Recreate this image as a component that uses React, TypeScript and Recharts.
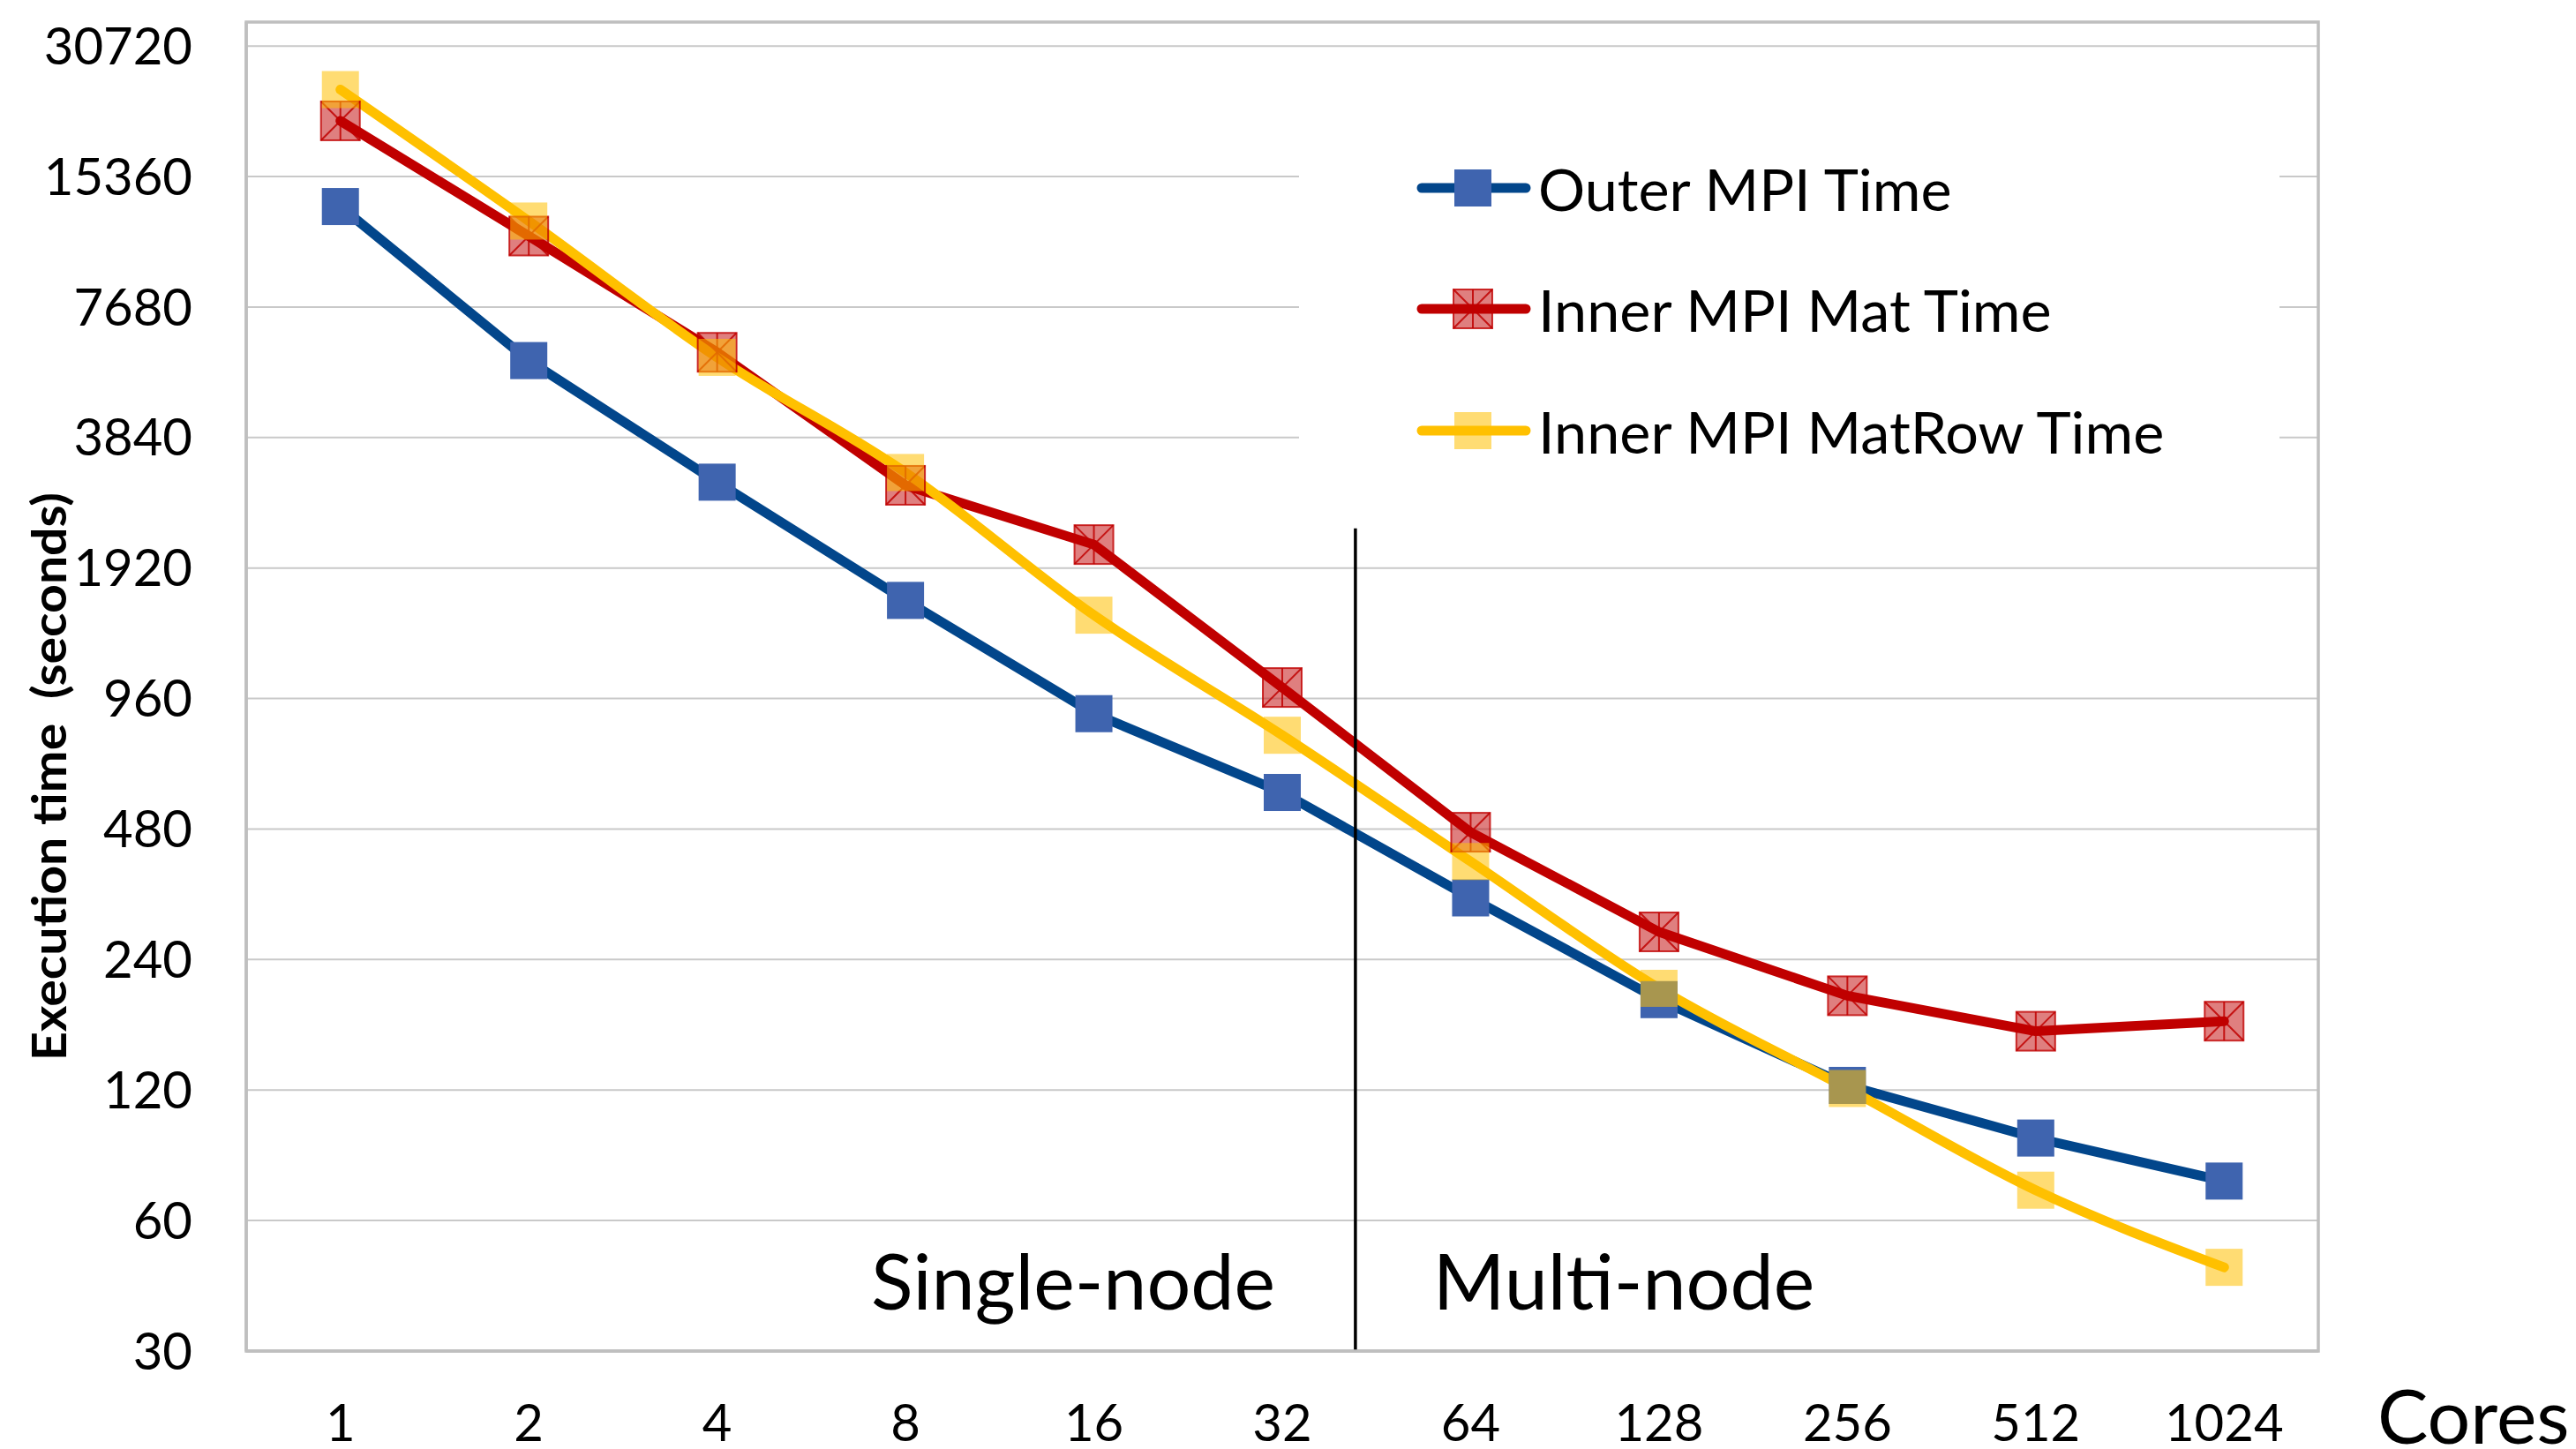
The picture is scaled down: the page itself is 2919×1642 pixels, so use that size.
import {
  LineChart,
  Line,
  XAxis,
  YAxis,
  CartesianGrid,
  Legend,
  ReferenceLine,
  ReferenceArea,
  ReferenceDot,
} from "recharts";

const cores = ["1", "2", "4", "8", "16", "32", "64", "128", "256", "512", "1024"];
const outerMpiTime = [13100, 5780, 3030, 1617, 886, 583, 333, 194, 123, 93, 74];
const innerMatTime = [20650, 11200, 6040, 2980, 2175, 1018, 472, 278, 198, 164, 173];
const innerMatRowTime = [24380, 12130, 5880, 3190, 1495, 790, 404, 206, 121, 70.5, 46.8];
const yTicks = [30, 60, 120, 240, 480, 960, 1920, 3840, 7680, 15360, 30720];
const yDomain = [30, 34900];

// annotation positions, in tenths of the plot width (0 = left edge, 10 = right edge)
const posDomain = [0, 10];
const dividerAt = 5.353;
const dividerTop = 2370;
const singleNodeAt = 3.991;
const multiNodeAt = 6.648;
const regionLabelY = 43.2;

const W = 2919;
const H = 1642;
const PLOT_LEFT = 279;
const PLOT_RIGHT = 2627;
const PLOT_TOP = 25;
const X_AXIS_H = 111;
const BAND = (PLOT_RIGHT - PLOT_LEFT) / cores.length;
const FONT = "Lato, 'Open Sans', sans-serif";
const FRAME = "#BFBFBF";

const data = cores.map((c, i) => ({
  cores: c,
  outer: outerMpiTime[i],
  mat: innerMatTime[i],
  matRow: innerMatRowTime[i],
}));

type MarkerKind = "square" | "star" | "light";

const series: { key: string; name: string; color: string; marker: MarkerKind; curve: "linear" | "monotone" }[] = [
  { key: "outer", name: "Outer MPI Time", color: "#02468B", marker: "square", curve: "linear" },
  { key: "mat", name: "Inner MPI Mat Time", color: "#C00000", marker: "star", curve: "linear" },
  { key: "matRow", name: "Inner MPI MatRow Time", color: "#FFC000", marker: "light", curve: "monotone" },
];

function Marker({ kind, cx, cy }: { kind: MarkerKind; cx: number; cy: number }) {
  if (kind === "square") {
    const h = 21;
    return <rect x={cx - h} y={cy - h} width={2 * h} height={2 * h} fill="#3F64AF" />;
  }
  if (kind === "light") {
    const h = 21;
    return <rect x={cx - h} y={cy - h} width={2 * h} height={2 * h} fill="#FFC000" fillOpacity={0.55} />;
  }
  const h = 22;
  return (
    <g>
      <rect
        x={cx - h}
        y={cy - h}
        width={2 * h}
        height={2 * h}
        fill="#C00000"
        fillOpacity={0.5}
        stroke="#C00000"
        strokeOpacity={0.8}
        strokeWidth={2}
      />
      <g stroke="#C00000" strokeWidth={2} strokeOpacity={0.85}>
        <line x1={cx - h} y1={cy - h} x2={cx + h} y2={cy + h} />
        <line x1={cx - h} y1={cy + h} x2={cx + h} y2={cy - h} />
        <line x1={cx} y1={cy - h} x2={cx} y2={cy + h} />
      </g>
    </g>
  );
}

function renderLegend() {
  return (
    <div style={{ paddingTop: 24, fontFamily: FONT }}>
      {series.map((s) => (
        <div key={s.key} style={{ height: 137.5, display: "flex", alignItems: "center" }}>
          <svg width={271} height={60} style={{ flex: "none" }}>
            <line x1={139} y1={30} x2={257} y2={30} stroke={s.color} strokeWidth={11} strokeLinecap="round" />
            <Marker kind={s.marker} cx={197} cy={30} />
          </svg>
          <span style={{ fontSize: 66.5, color: "#000", lineHeight: 1, whiteSpace: "nowrap" }}>{s.name}</span>
        </div>
      ))}
    </div>
  );
}

export default function App() {
  return (
    <div style={{ position: "absolute", left: 0, top: 0, width: W, height: H, background: "#fff" }}>
      <LineChart
        width={W}
        height={H}
        data={data}
        margin={{ top: PLOT_TOP, right: W - PLOT_RIGHT, bottom: 0, left: 0 }}
      >
        <CartesianGrid vertical={false} stroke="#C9C9C9" strokeWidth={2} />
        <XAxis
          dataKey="cores"
          height={X_AXIS_H}
          padding={{ left: BAND / 2, right: BAND / 2 }}
          tickLine={false}
          axisLine={{ stroke: FRAME, strokeWidth: 3.5 }}
          tickSize={0}
          tickMargin={61}
          interval={0}
          tick={{ fontSize: 58, fill: "#000", fontFamily: FONT }}
          label={{
            content: () => (
              <text x={PLOT_RIGHT + 67} y={1636} fontSize={86} fontFamily={FONT} fill="#000">
                Cores
              </text>
            ),
          }}
        />
        <XAxis xAxisId="pos" type="number" domain={posDomain} ticks={posDomain} allowDataOverflow hide />
        <YAxis
          type="number"
          scale="log"
          domain={yDomain}
          ticks={yTicks}
          allowDataOverflow
          width={PLOT_LEFT}
          tickLine={false}
          axisLine={{ stroke: FRAME, strokeWidth: 3.5 }}
          tickSize={0}
          tickMargin={61}
          interval={0}
          tick={{ fontSize: 58, fill: "#000", fontFamily: FONT }}
          label={{
            content: () => (
              <text
                x={75}
                y={880}
                transform="rotate(-90, 75, 880)"
                textAnchor="middle"
                fontSize={53}
                fontWeight="bold"
                fontFamily={FONT}
                fill="#000"
                textLength={644}
                lengthAdjust="spacingAndGlyphs"
                style={{ whiteSpace: "pre" }}
              >
                Execution time  (seconds)
              </text>
            ),
          }}
        />
        <ReferenceArea
          xAxisId="pos"
          x1={posDomain[0]}
          x2={posDomain[1]}
          y1={yDomain[0]}
          y2={yDomain[1]}
          ifOverflow="visible"
          fill="none"
          fillOpacity={0}
          stroke={FRAME}
          strokeWidth={3.5}
        />
        <Legend
          layout="vertical"
          align="center"
          verticalAlign="middle"
          content={renderLegend}
          wrapperStyle={{ left: 1472, top: 120, width: 1111, height: 455, background: "#fff" }}
        />
        {series.map((s) => (
          <Line
            key={s.key}
            dataKey={s.key}
            name={s.name}
            type={s.curve}
            stroke={s.color}
            strokeWidth={11}
            strokeLinecap="round"
            strokeLinejoin="round"
            isAnimationActive={false}
            activeDot={false}
            dot={(p: any) => <Marker key={`${s.key}-${p.index}`} kind={s.marker} cx={p.cx} cy={p.cy} />}
          />
        ))}
        <ReferenceLine
          xAxisId="pos"
          segment={[
            { x: dividerAt, y: yDomain[0] },
            { x: dividerAt, y: dividerTop },
          ]}
          stroke="#000"
          strokeWidth={3.5}
        />
        <ReferenceDot
          xAxisId="pos"
          x={singleNodeAt}
          y={regionLabelY}
          r={0}
          fill="none"
          stroke="none"
          label={{ value: "Single-node", position: "center", fontSize: 88, fill: "#000", fontFamily: FONT }}
        />
        <ReferenceDot
          xAxisId="pos"
          x={multiNodeAt}
          y={regionLabelY}
          r={0}
          fill="none"
          stroke="none"
          label={{ value: "Multi-node", position: "center", fontSize: 88, fill: "#000", fontFamily: FONT }}
        />
      </LineChart>
    </div>
  );
}
